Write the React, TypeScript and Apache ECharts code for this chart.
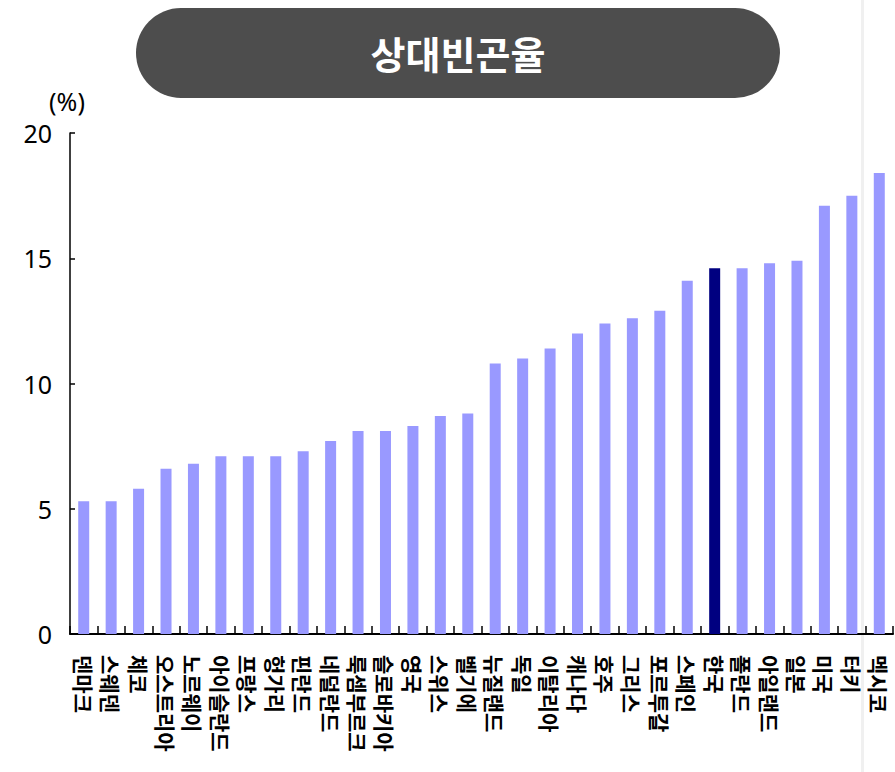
import React, { useEffect, useRef } from "react";
import * as echarts from "echarts";

const categories = [
  "덴마크", "스웨덴", "체코", "오스트리아", "노르웨이", "아이슬란드", "프랑스", "헝가리",
  "핀란드", "네덜란드", "룩셈부르크", "슬로바키아", "영국", "스위스", "벨기에", "뉴질랜드",
  "독일", "이탈리아", "캐나다", "호주", "그리스", "포르투갈", "스페인", "한국",
  "폴란드", "아일랜드", "일본", "미국", "터키", "멕시코",
];
const values = [
  5.3, 5.3, 5.8, 6.6, 6.8, 7.1, 7.1, 7.1,
  7.3, 7.7, 8.1, 8.1, 8.3, 8.7, 8.8, 10.8,
  11.0, 11.4, 12.0, 12.4, 12.6, 12.9, 14.1, 14.6,
  14.6, 14.8, 14.9, 17.1, 17.5, 18.4,
];
const highlight = "한국";
const yTicks = [0, 5, 10, 15, 20];
const title = "상대빈곤율";
const unit = "(%)";

export default function App() {
  const ref = useRef<HTMLDivElement>(null);
  useEffect(() => {
    if (!ref.current) return;
    const chart = echarts.init(ref.current, null, { renderer: "svg" });
    chart.setOption({
      animation: false,
      graphic: [
        {
          type: "rect",
          left: 861,
          top: 0,
          shape: { width: 3, height: 772 },
          style: { fill: "#f0f0f0" },
          z: -10,
        },
        {
          type: "rect",
          left: 136,
          top: 8,
          shape: { width: 644, height: 90, r: 45 },
          style: { fill: "#4d4d4d" },
        },
        {
          type: "text",
          x: 458,
          y: 52,
          style: {
            text: title,
            fill: "#ffffff",
            font: 'bold 38px "Noto Sans CJK KR"',
            align: "center",
            verticalAlign: "middle",
          },
        },
        {
          type: "text",
          x: 67,
          y: 101,
          style: {
            text: unit,
            fill: "#000",
            font: '25px "Noto Sans"',
            align: "center",
            verticalAlign: "middle",
          },
        },
      ],
      grid: { left: 70, right: 2, top: 133, bottom: 138, containLabel: false },
      xAxis: {
        type: "category",
        data: categories,
        boundaryGap: true,
        axisLine: { lineStyle: { color: "#000", width: 2 } },
        axisTick: { show: true, inside: true, length: 8, lineStyle: { color: "#000", width: 1.5 } },
        axisLabel: {
          rotate: -90,
          interval: 0,
          margin: 21,
          color: "#000",
          fontSize: 21,
          fontWeight: "bold",
          fontFamily: "Noto Sans CJK KR",
        },
      },
      yAxis: {
        type: "value",
        min: yTicks[0],
        max: yTicks[yTicks.length - 1],
        interval: 5,
        splitLine: { show: false },
        axisLine: { show: true, lineStyle: { color: "#000", width: 1.5 } },
        axisTick: { show: true, inside: true, length: 5, lineStyle: { color: "#000", width: 1.5 } },
        axisLabel: {
          margin: 18,
          color: "#000",
          fontSize: 25,
          fontFamily: "Noto Sans",
        },
      },
      series: [
        {
          type: "bar",
          barWidth: 11,
          data: values.map((v, i) => ({
            value: v,
            itemStyle: { color: categories[i] === highlight ? "#000080" : "#9999ff" },
          })),
        },
      ],
    });
    return () => chart.dispose();
  }, []);
  return <div ref={ref} style={{ width: 895, height: 772, position: "absolute", left: 0, top: 0 }} />;
}
